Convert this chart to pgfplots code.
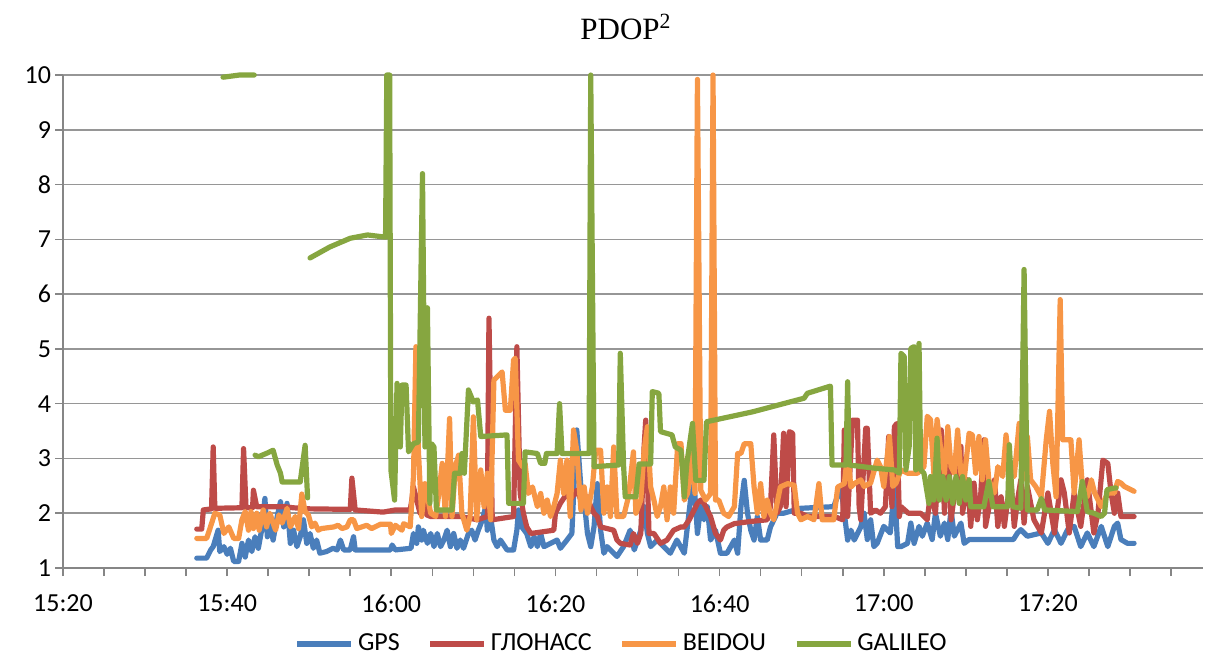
\documentclass[border=0pt]{standalone}
\usepackage{fontspec}
\setmainfont{Carlito}
\newfontfamily\titlefont{Liberation Serif}
\usepackage{pgfplots}
\usepackage{pgfplotstable}
\pgfplotsset{compat=1.18}

\definecolor{gpsblue}{RGB}{74,126,187}
\definecolor{glored}{RGB}{190,75,72}
\definecolor{bdorange}{RGB}{247,150,70}
\definecolor{galgreen}{RGB}{134,166,64}
\definecolor{axisgray}{RGB}{134,134,134}
\definecolor{gridgray}{RGB}{150,150,150}

% time in minutes after 15:20, PDOP^2
\pgfplotstableread{
x y
16.3 1.18
17.5 1.18
18.0 1.33
18.3 1.39
18.9 1.69
19.1 1.30
19.6 1.39
20.0 1.25
20.4 1.36
20.8 1.12
21.4 1.12
21.8 1.45
22.2 1.20
22.6 1.51
23.0 1.30
23.4 1.57
23.8 1.36
24.2 1.69
24.6 2.27
24.9 1.57
25.2 1.82
25.6 1.51
26.1 1.94
26.5 2.21
26.9 1.75
27.3 2.18
27.7 1.45
28.1 1.69
28.5 1.39
28.9 1.57
29.3 1.88
29.7 1.45
30.1 1.63
30.5 1.36
30.9 1.51
31.3 1.27
32.1 1.30
32.9 1.36
33.4 1.33
33.8 1.51
34.2 1.33
35.0 1.33
35.4 1.57
35.6 1.33
39.9 1.33
40.1 1.42
40.5 1.33
42.4 1.36
42.7 1.63
43.1 1.45
43.3 1.75
43.7 1.51
43.9 1.69
44.4 1.45
44.8 1.63
45.2 1.39
45.6 1.63
46.0 1.39
46.4 1.51
46.8 1.69
47.2 1.39
47.6 1.63
48.0 1.36
48.4 1.51
48.8 1.36
49.4 1.63
49.8 1.69
50.2 1.51
50.6 1.69
51.1 1.88
51.5 2.12
51.7 1.69
52.1 1.94
52.5 1.51
52.9 1.39
53.3 1.51
54.1 1.33
54.9 1.33
55.3 1.69
55.5 2.06
55.9 1.75
56.5 1.63
57.0 1.39
57.4 1.57
57.8 1.39
58.2 1.63
58.6 1.39
59.4 1.45
60.2 1.51
60.6 1.36
61.4 1.51
62.0 1.63
62.2 2.30
62.6 3.52
63.1 2.48
63.5 2.24
63.9 1.63
64.3 1.39
64.7 1.75
65.1 2.54
65.5 1.69
65.9 1.27
66.3 1.39
67.1 1.27
67.5 1.21
68.3 1.39
69.1 1.69
69.6 1.33
70.4 1.69
70.8 2.12
71.2 1.63
71.6 1.39
72.4 1.51
73.2 1.39
74.0 1.27
74.8 1.51
75.7 1.27
76.5 2.30
76.9 2.54
77.3 1.63
77.7 2.12
78.1 1.88
78.5 2.12
78.9 1.51
79.5 1.69
80.1 1.27
80.9 1.27
81.8 1.51
82.2 1.27
82.6 2.12
83.0 2.60
83.4 2.00
83.8 1.69
84.2 1.51
84.6 1.94
85.0 1.51
85.8 1.51
86.2 1.75
87.0 2.00
87.8 2.00
89.9 2.09
93.9 2.12
94.8 2.48
95.6 1.51
96.0 1.69
96.4 1.51
97.2 1.75
97.6 2.00
98.0 1.52
98.4 1.88
98.8 1.39
99.2 1.45
100.0 1.76
100.8 1.64
101.3 2.49
101.7 1.39
102.1 1.39
102.9 1.45
103.3 1.82
103.7 1.45
104.3 1.76
104.7 1.58
105.3 1.82
105.9 1.52
106.3 2.00
106.9 1.58
107.4 1.82
107.8 1.52
108.2 2.06
108.6 1.58
109.4 1.82
109.8 1.45
110.4 1.52
115.8 1.52
116.3 1.64
116.7 1.70
117.5 1.58
119.2 1.64
120.0 1.45
120.8 1.70
121.6 1.45
122.4 1.70
123.2 1.76
124.0 1.39
124.8 1.64
125.6 1.39
126.5 1.76
127.3 1.39
128.1 1.76
128.5 1.82
128.9 1.52
129.7 1.45
130.5 1.45
}\gpsdata

\pgfplotstableread{
x y
16.3 1.71
16.9 1.71
17.1 2.06
18.1 2.08
18.3 3.21
18.5 2.09
21.8 2.10
22.0 3.18
22.3 2.10
23.1 2.10
23.2 2.42
23.6 2.12
27.0 2.12
28.0 2.10
30.0 2.08
35.0 2.07
35.2 2.64
35.6 2.06
39.0 2.02
40.5 2.06
42.3 2.06
42.5 2.24
42.7 2.48
43.1 2.24
43.5 2.00
43.9 2.48
44.3 1.97
44.8 1.94
48.4 1.94
49.5 1.91
50.5 1.88
51.7 1.94
51.9 5.56
52.3 1.88
54.9 1.94
55.3 5.04
55.7 2.36
56.1 2.00
56.5 1.75
57.0 1.63
59.8 1.69
60.0 2.00
60.6 2.18
61.4 2.36
61.8 2.24
62.6 2.42
63.1 2.24
63.9 2.30
64.3 2.12
64.7 2.00
65.1 1.94
65.5 1.75
67.1 1.69
67.5 1.51
67.9 1.45
69.1 1.42
69.5 1.63
70.0 1.45
70.4 1.63
70.8 3.21
71.0 3.70
71.4 1.63
72.0 1.63
72.8 1.45
73.6 1.51
74.4 1.69
75.3 1.75
75.7 1.75
76.3 1.88
77.3 2.18
77.7 2.24
78.1 2.18
78.9 1.94
79.5 1.63
80.1 1.51
80.5 1.69
80.9 1.75
81.8 1.81
83.8 1.85
85.8 1.88
86.2 2.12
86.6 3.43
87.0 2.00
87.4 2.12
87.8 3.46
88.1 2.12
88.5 3.49
88.9 3.46
89.1 2.00
89.9 2.00
90.7 1.94
94.0 1.94
95.0 1.88
95.2 3.52
95.6 1.94
96.2 3.70
96.8 3.70
97.0 2.12
97.2 1.88
97.8 3.55
98.0 3.55
98.4 2.00
99.0 2.06
99.6 2.00
100.2 2.12
100.6 3.40
101.0 2.12
101.3 3.58
101.6 3.64
101.9 1.94
102.1 2.12
103.0 2.00
104.5 2.00
105.3 1.88
105.7 2.37
106.3 2.00
107.0 3.52
107.4 2.00
107.8 3.52
108.2 1.88
108.8 2.55
109.4 3.22
109.6 2.00
110.2 2.61
110.6 1.76
111.0 2.55
111.4 1.88
111.8 2.30
112.2 3.34
112.4 1.76
113.0 2.24
113.5 2.61
113.9 1.76
114.3 2.30
114.7 1.76
115.1 2.24
115.5 2.61
115.9 1.76
116.3 2.24
116.7 2.61
117.1 1.82
117.5 2.49
118.3 1.88
119.2 1.64
120.0 2.37
120.8 1.64
121.6 2.61
122.0 2.37
122.6 1.64
123.2 2.37
124.0 1.76
124.8 2.61
125.6 1.64
126.1 2.00
126.7 2.97
127.3 2.91
127.7 2.37
128.1 2.00
128.5 2.37
128.9 1.94
129.7 1.94
130.5 1.94
}\glonassdata

\pgfplotstableread{
x y
16.3 1.54
17.5 1.54
17.9 1.72
18.5 2.00
19.1 1.97
19.6 1.63
20.2 1.75
20.8 1.54
21.4 1.54
21.8 1.88
22.2 2.03
22.6 1.69
22.9 2.03
23.2 1.72
23.6 2.00
23.9 1.69
24.4 2.06
24.8 1.75
25.2 2.00
25.9 1.69
26.3 1.97
26.7 1.82
27.3 2.09
27.7 1.75
28.3 1.94
28.7 1.72
29.1 2.35
29.5 2.03
29.9 1.97
30.3 1.75
30.7 1.82
31.1 1.69
31.5 1.72
33.0 1.75
33.5 1.78
34.0 1.72
34.6 1.75
35.0 1.88
35.4 1.88
35.8 1.72
37.0 1.78
37.6 1.72
38.7 1.80
39.9 1.80
40.0 1.63
40.5 1.78
41.3 1.69
41.5 1.81
42.3 1.75
42.7 2.67
43.0 5.04
43.3 3.15
43.7 1.94
44.1 2.54
44.8 2.00
45.4 1.94
45.8 2.36
46.2 2.91
46.6 1.94
47.1 3.73
47.4 1.94
47.8 2.85
48.2 3.06
48.6 2.00
49.2 1.69
49.6 1.94
50.0 3.76
50.4 1.88
50.9 2.79
51.3 2.12
51.7 2.73
52.1 1.88
52.5 4.43
52.9 4.49
53.5 4.58
53.9 3.88
54.5 3.88
54.9 4.80
55.1 4.83
55.5 2.97
56.0 2.85
56.3 2.91
56.7 2.36
57.2 2.48
57.8 2.12
58.2 2.36
58.6 2.00
59.0 2.24
59.4 1.94
59.8 2.12
60.2 2.36
60.6 2.97
61.0 2.36
61.4 2.97
61.8 1.94
62.2 3.52
62.6 3.15
63.1 2.06
63.5 2.48
63.9 2.00
64.5 2.48
64.9 3.15
65.5 3.15
65.9 2.00
66.3 2.48
66.7 1.94
67.1 3.21
67.5 1.94
68.3 1.94
68.9 2.30
69.5 3.12
69.8 2.00
70.4 2.24
70.8 3.15
71.2 3.58
71.6 2.48
72.0 2.24
72.4 1.94
72.8 2.12
73.2 2.48
73.6 1.88
74.0 2.48
74.4 2.00
74.9 3.27
75.3 3.27
75.7 2.24
76.1 2.36
76.7 3.09
77.0 2.36
77.3 9.92
77.7 2.42
78.3 2.24
78.9 2.36
79.2 10.0
79.5 2.24
79.9 2.24
80.5 2.00
81.1 1.94
81.8 2.12
82.2 3.09
82.6 3.09
83.0 3.27
83.8 3.27
84.2 2.48
84.6 2.00
85.0 2.54
85.4 1.94
85.8 2.24
86.2 2.00
86.6 1.88
87.4 2.48
88.3 2.54
89.1 2.51
89.5 2.00
89.9 1.88
90.7 1.94
91.5 1.88
92.1 2.54
92.5 1.88
93.9 1.88
94.4 2.48
95.2 2.54
95.6 3.09
96.0 2.48
96.4 2.54
97.2 2.61
97.6 2.49
98.4 2.55
99.2 2.97
99.6 2.85
100.0 2.49
100.7 3.40
101.1 2.49
101.5 2.55
102.1 2.79
102.9 2.73
104.1 2.73
104.9 2.85
105.3 3.77
105.7 3.71
106.1 2.73
106.5 3.71
107.0 3.10
107.4 2.73
107.8 3.58
108.2 2.85
108.6 2.73
109.0 3.52
109.4 2.73
109.8 2.61
110.4 3.46
110.8 3.43
111.2 2.73
111.6 3.40
112.0 2.61
112.4 3.34
112.8 2.61
113.5 2.37
113.9 2.85
114.5 2.67
114.9 3.43
115.3 2.85
115.9 2.67
116.5 3.64
116.9 2.61
117.5 3.40
117.9 2.61
118.5 2.49
119.2 2.30
119.8 3.34
120.2 3.86
120.6 2.91
121.0 2.30
121.5 5.90
121.8 3.34
122.8 3.34
123.2 2.37
123.8 3.34
124.2 2.49
124.8 2.30
125.3 2.61
125.7 2.37
126.5 2.12
127.3 2.37
128.1 2.37
128.5 2.58
128.9 2.55
129.3 2.49
130.5 2.40
}\beidoudata

% gaps in the GALILEO record are marked with nan
\pgfplotstableread{
x y
19.5 9.96
20.5 9.98
21.5 10.0
23.3 10.0
23.35 nan
23.4 3.06
23.8 3.03
24.9 3.10
25.6 3.15
26.1 2.88
26.5 2.73
26.7 2.57
28.9 2.57
29.5 3.24
29.8 2.28
29.95 nan
30.1 6.66
32.5 6.86
35.0 7.02
37.1 7.08
39.3 7.04
39.45 10.0
39.8 10.0
39.95 2.79
40.4 2.24
40.7 4.37
41.1 3.21
41.3 4.34
41.8 4.34
42.1 3.12
42.7 3.27
43.3 3.30
43.8 8.20
44.1 3.21
44.4 5.75
44.7 2.18
44.9 3.27
45.2 3.21
45.5 2.06
47.4 2.06
47.7 2.73
48.4 2.73
48.6 3.09
48.9 2.73
49.4 4.25
50.0 4.03
50.5 4.07
50.9 3.40
54.1 3.43
54.3 2.18
56.1 2.18
56.3 3.12
57.8 3.09
58.2 2.91
58.7 2.91
58.9 3.09
60.2 3.09
60.5 4.00
60.8 3.09
64.1 3.09
64.3 10.0
64.7 2.85
67.7 2.88
67.9 4.92
68.3 2.88
68.5 2.30
69.8 2.30
70.2 2.90
71.6 2.90
71.8 4.22
72.6 4.19
72.8 3.49
74.2 3.43
74.6 3.21
75.3 3.15
75.7 2.30
76.0 2.90
76.7 3.64
77.1 2.60
78.1 2.60
78.4 3.67
84.0 3.85
90.3 4.10
90.7 4.19
93.5 4.32
93.7 2.88
95.4 2.88
95.6 4.40
95.8 2.88
99.0 2.82
101.3 2.79
101.9 2.73
102.1 4.92
102.5 4.86
102.7 2.79
103.1 3.22
103.3 5.01
103.7 5.04
103.9 2.79
104.3 5.10
104.5 2.79
104.9 2.73
105.5 2.18
105.7 2.67
106.1 2.24
106.5 3.37
106.8 2.24
107.2 2.67
107.6 2.24
108.0 2.67
108.4 2.18
108.8 2.67
109.2 2.18
109.6 2.67
110.0 2.24
110.4 2.61
110.6 2.12
112.2 2.12
112.8 2.58
113.3 2.12
115.1 2.12
115.3 3.25
115.7 2.12
116.7 2.09
117.1 6.45
117.5 2.06
118.7 2.06
119.2 2.27
119.6 2.06
123.6 2.03
124.2 2.58
124.8 2.03
125.6 2.00
126.5 1.94
126.9 2.00
127.2 2.43
128.1 2.46
128.3 2.46
}\galileodata

\begin{document}
\begin{tikzpicture}
\path[use as bounding box] (-31.5bp,-45.5bp) rectangle (572.5bp,284bp);
\begin{axis}[
  scale only axis,
  width=570bp, height=246.5bp,
  xmin=0, xmax=138.9, ymin=1, ymax=10,
  clip=false,
  unbounded coords=jump,
  axis lines*=left,
  axis line style={axisgray, line width=0.8bp},
  xtick={0,20,...,120},
  xticklabels={15:20,15:40,16:00,16:20,16:40,17:00,17:20},
  minor xtick={5,10,...,135},
  ytick={1,2,...,10},
  tick align=outside,
  major tick length=4bp, minor tick length=4bp,
  tick style={axisgray, line width=0.8bp},
  ymajorgrids,
  grid style={gridgray, line width=0.8bp},
  /pgf/number format/assume math mode=true,
  ticklabel style={font=\fontsize{13bp}{15bp}\selectfont, text=black},
  yticklabel style={xshift=1.5bp},
  xticklabel style={yshift=-6bp},
  title={PDOP\textsuperscript{2}},
  title style={at={(0.5,1)}, anchor=base, yshift=12bp, xshift=-3.5bp,
    font=\titlefont\fontsize{15.5bp}{17bp}\selectfont},
  legend columns=4,
  legend style={draw=none, fill=none, at={(0.491,-0.154)}, anchor=center,
    inner sep=1bp,
    font=\fontsize{13bp}{15bp}\selectfont,
    /tikz/every even column/.append style={column sep=12bp}},
  legend image code/.code={\draw[#1, line width=2.6bp, line cap=butt] (0bp,0bp) -- (27bp,0bp);},
  every axis plot/.append style={line width=2.6bp, line join=round, line cap=round},
]
\addplot[gpsblue, no markers] table[x=x, y=y] {\gpsdata};
\addlegendentry{GPS}
\addplot[glored, no markers] table[x=x, y=y] {\glonassdata};
\addlegendentry{ГЛОНАСС}
\addplot[bdorange, no markers] table[x=x, y=y] {\beidoudata};
\addlegendentry{BEIDOU}
\addplot[galgreen, no markers] table[x=x, y=y] {\galileodata};
\addlegendentry{GALILEO}
\end{axis}
\end{tikzpicture}
\end{document}
